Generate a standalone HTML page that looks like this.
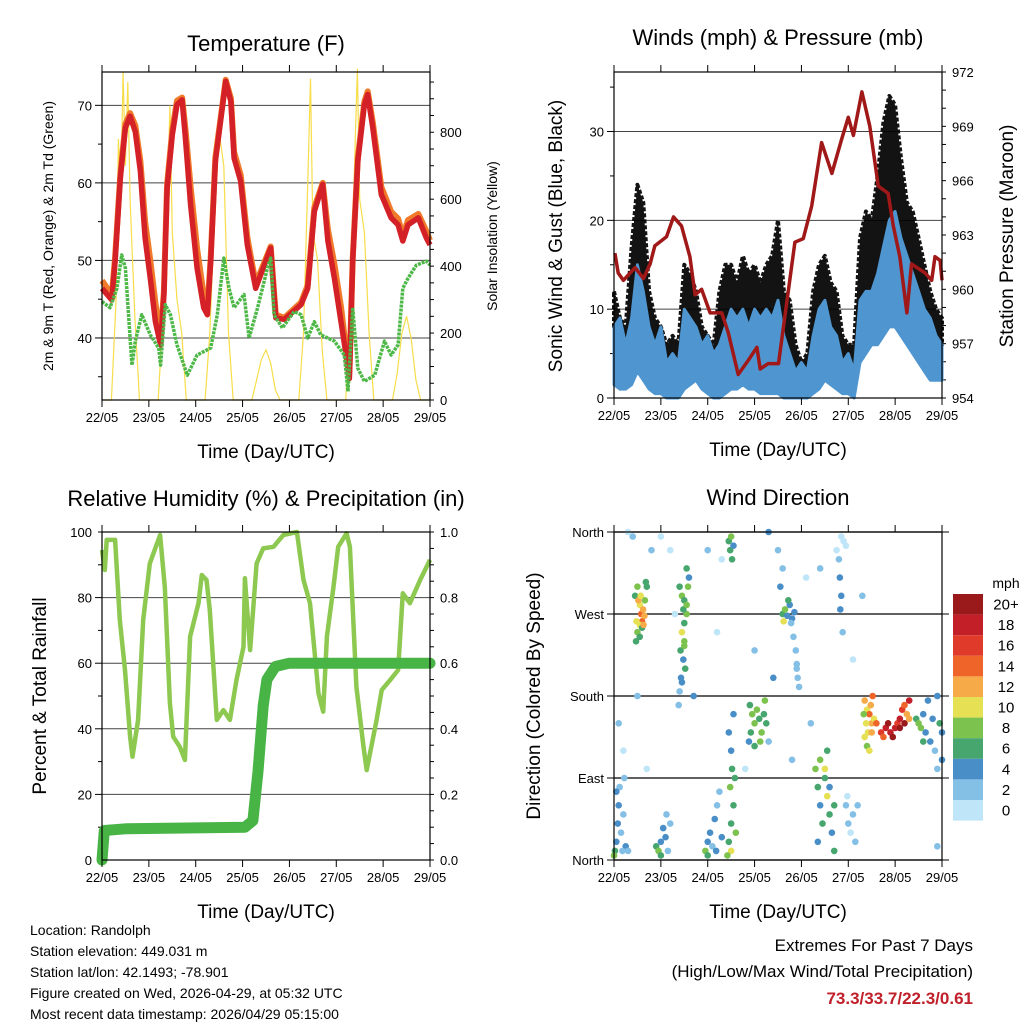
<!DOCTYPE html>
<html><head><meta charset="utf-8">
<style>
body{margin:0;background:#fff;}
svg{display:block;font-family:"Liberation Sans",sans-serif;}
</style></head>
<body>
<svg id="c" width="1024" height="1024" viewBox="0 0 1024 1024"></svg>
<script>
// ---------- DATA ----------
const dayTicks=["22/05","23/05","24/05","25/05","26/05","27/05","28/05","29/05"];
// Temperature panel
const tDays=[0,.21,.28,.39,.5,.6,.71,.82,.92,1.03,1.14,1.25,1.32,1.39,1.5,1.6,1.71,1.78,1.89,2.03,2.17,2.25,2.32,2.42,2.53,2.64,2.75,2.82,2.96,3.1,3.28,3.39,3.6,3.67,3.71,3.89,4.25,4.39,4.53,4.71,4.82,4.96,5.1,5.21,5.28,5.35,5.46,5.6,5.67,5.78,5.96,6.17,6.32,6.42,6.53,6.75,6.92,7];
const temp2m=[46.4,44.9,49.9,60.6,67.1,68.6,66.6,61.5,52.9,47.7,42.1,39.1,45.6,59.3,66.2,70.1,70.7,65.8,57.2,49,43.9,43,49.9,62.8,67.9,73.1,70.5,63.2,60.2,52,46.4,48.2,51.6,45.6,42.6,42.4,44.3,46.4,56.3,59.8,52.5,47.7,42.1,37.8,34.8,49.9,62.8,70.1,71.4,67.1,58.5,55.5,54.6,52.5,54.6,55.5,52.9,52];
const temp9m=[47.4,45.5,50.4,61,67.6,69,67.4,62.8,55,50,44.5,40,46,59.8,66.8,70.6,71,67,59.5,51.5,45.5,43.6,50.4,63.3,68.2,73.3,70.9,64,61,53,47,48.6,51.8,46,43,42.6,44.6,46.8,56.8,60,54,49.5,44,38.5,35.5,50.2,63.2,70.5,71.8,67.8,59.5,56.3,55.4,53.2,55.2,56,53.8,52.6];
const tdDays=[0,.17,.32,.42,.5,.6,.64,.71,.85,1.03,1.21,1.25,1.35,1.46,1.6,1.82,2.03,2.32,2.46,2.6,2.71,2.82,3.03,3.14,3.32,3.53,3.6,3.67,3.85,4.1,4.25,4.39,4.53,4.67,4.96,5.17,5.25,5.35,5.46,5.6,5.82,6.03,6.17,6.32,6.42,6.53,6.71,6.92,7];
const dewpoint=[44.7,43.9,46.4,50.7,49,40,36.5,39.6,43,40.4,38.7,36.5,44.3,43,39.1,35.2,37.8,38.7,43,50.3,46.4,43.9,45.6,40,43.9,49,50.3,43,41.3,43.4,43,40,42.1,40.4,39.6,37.8,33.1,43.9,36.1,34.4,35.2,39.6,37.8,39.1,46.4,47.7,49.4,49.9,49.4];
const solarDays=[0,.2,.3,.35,.4,.45,.5,.55,.6,.7,.8,1.2,1.3,1.4,1.45,1.5,1.6,1.7,1.8,2.2,2.3,2.4,2.5,2.6,2.7,2.8,3.2,3.3,3.4,3.5,3.6,3.7,3.8,4.2,4.3,4.4,4.45,4.5,4.6,4.7,4.8,5.2,5.3,5.4,5.45,5.5,5.6,5.7,5.8,6.2,6.3,6.4,6.5,6.6,6.7,6.8,7];
const solar=[0,0,300,780,600,980,700,950,600,250,0,0,250,600,880,500,300,200,0,0,200,550,800,700,200,0,0,60,120,150,110,30,0,0,200,700,960,500,420,150,0,0,250,750,990,600,500,200,0,0,80,200,250,180,60,0,0];
// Winds panel
const pDays=[.02,.09,.2,.45,.63,.77,.87,1.12,1.27,1.44,1.62,1.73,1.87,2.05,2.3,2.44,2.65,2.87,3.05,3.12,3.29,3.51,3.86,4.04,4.22,4.43,4.65,4.86,5,5.11,5.29,5.46,5.64,5.85,5.96,6.1,6.25,6.35,6.64,6.78,6.85,6.96,7];
const pressure=[962,960.9,960.5,961.2,960.6,961.4,962.4,962.9,964,963.5,961.8,959.7,960,958.7,958.7,957.6,955.3,956.1,956.8,955.6,955.9,955.9,962.6,962.8,964.6,968.1,966.4,968.3,969.5,968.5,970.9,969,965.7,965.3,963.5,961.8,958.7,961.4,960.9,960.5,961.8,961.6,960.5];
const wDays=[0,.125,.25,.375,.5,.625,.75,.875,1,1.125,1.25,1.375,1.5,1.625,1.75,1.875,2,2.125,2.25,2.375,2.5,2.625,2.75,2.875,3,3.125,3.25,3.375,3.5,3.625,3.75,3.875,4,4.125,4.25,4.375,4.5,4.625,4.75,4.875,5,5.125,5.25,5.375,5.5,5.625,5.75,5.875,6,6.125,6.25,6.375,6.5,6.625,6.75,6.875,7];
const windHi=[8,9,6,9,15,12,8,6,8,4,5,4,10,9,8,6,7,5,6,8,10,9,10,8,10,9,10,9,11,7,5,3,4,3,7,10,11,8,7,4,5,3,11,12,12,14,17,20,21,18,16,14,12,10,9,7,6];
const windLo=[1.5,1,1,1.5,3,2,1,.5,.5,0,0,0,1,1.5,2,1,.5,0,0,.5,1,1,1.5,1,1,.5,.5,.5,.5,0,0,0,0,0,.5,1,2,1.5,1,.5,.5,0,4,5,6,6,7,8,8,7,6,5,4,3,2,2,2];
const gustHi=[12,9,8,17,24,22,12,9,8,6,7,6,15,14,12,8,7,6,12,15,15,13,16,14,15,13,15,16,20,12,11,6,4,5,12,15,16,13,12,7,6,6,18,21,20,25,31,34,33,27,22,21,18,15,12,10,9];
// Humidity panel
const rhDays=[0,.06,.1,.28,.38,.49,.6,.65,.77,.88,1.02,1.24,1.34,1.45,1.52,1.66,1.77,1.88,2.06,2.13,2.23,2.3,2.45,2.59,2.73,2.87,3.02,3.05,3.16,3.3,3.44,3.66,3.87,4.16,4.3,4.44,4.62,4.72,4.8,4.94,5.04,5.22,5.29,5.43,5.58,5.65,5.86,5.97,6.15,6.32,6.42,6.57,6.79,7];
const humidity=[94.5,88.4,97.6,97.6,73.2,57.9,37.6,31.5,42.7,73.2,90.4,99.1,83.3,47.8,37.6,34.5,30.5,68.1,78.3,86.9,85.4,76.2,42.7,45.7,42.7,54.9,65,85.9,64,90.4,95,95.5,99.1,100,85.4,78.3,50.8,45.2,68.1,83.3,95.5,99.6,95.5,52.8,34.5,27.4,42.7,51.8,54.9,57.9,81.3,78.3,85.4,91.5];
const precipDays=[0,.05,.5,3.05,3.22,3.33,3.44,3.52,3.7,4,7];
const precip=[0,.09,.095,.1,.12,.27,.47,.55,.59,.6,.6];
// Wind direction panel
const dirDays=[.45,.5,.55,.58,.6,.62,.65,.55,.5,.48,.66,.7,.68,.52,.6,.57,.63,.47,.55,
1.4,1.45,1.5,1.55,1.5,1.45,1.5,1.42,1.48,1.52,1.55,1.6,1.58,1.48,1.43,1.4,1.38,1.45,1.55,1.5,
3.6,3.65,3.7,3.75,3.8,3.85,3.72,3.62,3.78,3.83,3.88,3.9,3.92,3.95,3.9,3.55,3.6,
4.8,4.82,4.85,4.83,4.9,4.95,4.85,4.75,4.88,
5.35,5.4,5.45,5.5,5.38,5.42,5.48,5.52,5.35,5.4,5.45,5.33,5.5,5.55,
5.6,5.7,5.8,5.85,5.9,5.95,6,6.05,6.1,6.15,6.2,6.25,6.3,6.1,5.75,6.2,6.3,
6.45,6.5,6.55,6.6,6.65,6.7,6.75,6.8,6.85,6.9,6.95,7,6.6,6.9,7,
.02,.05,.08,.1,.12,.15,.2,.22,.25,.05,0,.18,
.9,.95,1,1.05,1.1,1.15,1.2,1,1.12,
1.95,2,2.05,2.1,2.15,2.2,2.25,2.3,2,2.18,
2.45,2.5,2.55,2.48,2.52,2.5,2.45,2.55,2.6,2.5,2.42,2.58,
2.9,2.95,3,2.92,3.05,3.1,3.15,3.2,3.25,3.12,3,3.22,2.88,
2.45,2.5,2.48,2.52,2.55,
4.3,4.35,4.4,4.45,4.5,4.55,4.6,4.65,4.7,4.35,4.4,4.55,4.5,4.6,4.7,
4.95,5,5.05,5.1,5.15,4.98,
.1,.2,.3,.4,.8,1,1.2,1.3,2.2,2.3,2,3.3,3.5,3,4.1,4.4,3.4,3.3,3.8,5.3,5.1,5.2,.5,1.7,.7,4.2,6.9,2.8,.3];
const dirDeg=[290,300,280,270,262,275,268,258,250,262,285,300,305,285,255,290,258,240,245,
300,290,285,270,260,250,240,230,220,210,320,310,300,275,200,185,170,195,280,235,
270,275,268,280,265,272,285,262,260,245,230,215,200,190,210,300,320,
330,310,290,275,350,345,355,340,250,
175,165,160,150,150,140,170,180,135,125,120,160,140,155,
150,140,145,150,140,135,145,150,155,165,170,160,175,145,135,150,155,
155,150,145,160,140,175,130,155,120,180,150,140,130,100,110,
10,20,40,60,80,30,50,90,15,75,5,10,
15,10,20,35,25,10,40,5,50,
10,20,30,15,45,60,75,25,5,10,
20,40,60,80,100,120,140,160,30,10,5,90,
170,160,150,140,165,155,140,160,150,130,125,175,130,
350,355,340,330,345,
100,80,60,40,90,70,50,30,10,20,110,120,100,80,60,
60,40,30,50,20,70,
150,120,360,355,340,355,340,270,250,330,340,360,340,230,310,320,200,130,110,290,220,60,180,180,100,150,15,100,10];
const dirSpeed=[6,8,10,14,14,12,13,10,8,11,9,6,7,12,6,11,13,7,6,
6,8,7,8,7,10,8,6,5,6,6,5,8,6,4,2,2,5,8,9,
6,8,4,4,4,4,6,10,3,3,3,2,2,2,2,4,3,
2,4,4,4,0,0,0,0,2,
12,10,14,12,10,10,12,14,10,8,10,8,12,10,
14,16,18,20,18,20,18,16,18,16,14,12,18,20,14,20,12,
6,8,8,4,4,4,4,4,2,4,6,4,6,2,4,
6,4,4,4,2,2,2,2,4,4,8,2,
6,8,4,4,4,2,2,6,2,
8,4,4,2,4,2,2,4,6,4,
6,6,6,8,6,4,4,4,8,10,8,6,
6,8,8,6,8,6,8,6,6,8,6,8,4,
6,8,6,6,4,
8,6,4,6,6,10,6,4,6,4,8,6,10,4,6,
2,2,0,2,2,0,
2,0,0,2,2,0,0,0,0,0,2,4,2,2,0,2,4,2,2,2,0,2,2,4,0,2,2,0,2];
const speedLabels=["20+","18","16","14","12","10","8","6","4","2","0"];
const speedColors=["#bfe5f8","#84bfe6","#4a8ec8","#46a66e","#7cc24e","#e6e055","#f7aa48","#ef6529","#e03a2a","#c21f28","#9a1a1c"];

// ---------- DRAWING ----------
const NS="http://www.w3.org/2000/svg";
const svg=document.getElementById('c');
function mk(tag,attrs,parent){const e=document.createElementNS(NS,tag);for(const k in attrs)e.setAttribute(k,attrs[k]);(parent||svg).appendChild(e);return e;}
function txt(s,x,y,size,anchor,parent,extra){const t=mk('text',Object.assign({x:x,y:y,'font-size':size,'text-anchor':anchor||'middle',fill:'#000'},extra||{}),parent);t.textContent=s;return t;}
function path(pts){return pts.map((p,i)=>(i?'L':'M')+p[0].toFixed(1)+','+p[1].toFixed(1)).join('');}

function frame(g,L,R,T,B){
  const r=mk('rect',{x:L,y:T,width:R-L,height:B-T,fill:'none',stroke:'#000','stroke-width':1.2},g);
  
  
}
function xAxis(g,L,R,T,B,xs){
  for(let i=0;i<dayTicks.length;i++){
    const x=xs(i);
    mk('line',{x1:x,y1:B,x2:x,y2:B+7,stroke:'#000'},g);
    mk('line',{x1:x,y1:T,x2:x,y2:T-7,stroke:'#000'},g);
    const t=txt(dayTicks[i],x,B+22,13,'middle',g);
    
    
  }
  const t=txt('Time (Day/UTC)',(L+R)/2,B+58,19,'middle',g);
  
  
}
function hGrid(g,L,R,y,side,label,major){
  if(major) mk('line',{x1:L,y1:y,x2:R,y2:y,stroke:'#444','stroke-width':1},g);
  if(side==='l'){mk('line',{x1:L,y1:y,x2:L-(major?7:4),y2:y,stroke:'#000'},g);
    if(label!=null){const t=txt(label,L-10,y+5,13,'end',g);}}
  else{mk('line',{x1:R,y1:y,x2:R+(major?7:4),y2:y,stroke:'#000'},g);
    if(label!=null){const t=txt(label,R+10,y+5,13,'start',g);}}
}
function vtitle(g,s,x,y,size,name){const t=txt(s,x,y,size,'middle',g,{transform:'rotate(-90 '+x+' '+y+')'});}

// ===== Panel 1: Temperature =====
(function(){
  const g=mk('g',{});
  
  
  const L=102,R=430,T=72,B=400;
  const X=d=>L+d*(R-L)/7, Y=v=>B-(v-32)*(B-T)/(74.3-32), Ys=v=>B-v*(B-T)/980;
  for(let v=40;v<=70;v+=10)hGrid(g,L,R,Y(v),'l',v,true);
  for(let v=35;v<=70;v+=5)if(v%10)hGrid(g,L,R,Y(v),'l',null,false);
  for(let v=0;v<=950;v+=50)hGrid(g,L,R,Ys(v),'r',v%200===0?v:null,false);
  const sp=mk('path',{d:path(solarDays.map((d,i)=>[X(d),Ys(solar[i])])),fill:'none',stroke:'#f7dd4a','stroke-width':1.2},g);
  
  const o=mk('path',{d:path(tDays.map((d,i)=>[X(d),Y(temp9m[i])])),fill:'none',stroke:'#f07a2a','stroke-width':6,'stroke-linejoin':'round'},g);
  
  const r=mk('path',{d:path(tDays.map((d,i)=>[X(d),Y(temp2m[i])])),fill:'none',stroke:'#d42027','stroke-width':5.5,'stroke-linejoin':'round'},g);
  
  const gr=mk('path',{d:path(tdDays.map((d,i)=>[X(d),Y(dewpoint[i])])),fill:'none',stroke:'#4db848','stroke-width':3.5,'stroke-dasharray':'3 1','stroke-linejoin':'round'},g);
  
  frame(g,L,R,T,B);xAxis(g,L,R,T,B,i=>X(i));
  const t=txt('Temperature (F)',266,51,22,'middle',g);
  vtitle(g,'2m & 9m T (Red, Orange) & 2m Td (Green)',53,236,14,'y-axis-title');
  vtitle(g,'Solar Insolation (Yellow)',497,236,14,'y2-axis-title');
})();

// ===== Panel 2: Winds =====
(function(){
  const g=mk('g',{});
  
  
  const L=614,R=942,T=72,B=398;
  const X=d=>L+d*(R-L)/7, Y=v=>B-v*(B-T)/36.7, Yp=v=>B-(v-954)*(B-T)/18;
  for(let v=0;v<=30;v+=10)hGrid(g,L,R,Y(v),'l',v,true);
  for(let v=5;v<=35;v+=10)hGrid(g,L,R,Y(v),'l',null,false);
  for(let v=954;v<=972;v+=1)hGrid(g,L,R,Yp(v),'r',(v-954)%3===0?v:null,false);
  const gust=wDays.map((d,i)=>[X(d),Y(gustHi[i])]).concat(wDays.map((d,i)=>[X(d),Y(windHi[i])]).reverse());
  const gp=mk('path',{d:path(gust)+'Z',fill:'#000',stroke:'#000','stroke-width':4,'stroke-linejoin':'round','stroke-dasharray':'4 2',opacity:.92},g);
  
  const band=wDays.map((d,i)=>[X(d),Y(windHi[i])]).concat(wDays.map((d,i)=>[X(d),Y(windLo[i])]).reverse());
  const bp=mk('path',{d:path(band)+'Z',fill:'#4f96d0',stroke:'#4f96d0','stroke-width':3,'stroke-linejoin':'round'},g);
  
  const pp=mk('path',{d:path(pDays.map((d,i)=>[X(d),Yp(pressure[i])])),fill:'none',stroke:'#a01818','stroke-width':3.5,'stroke-linejoin':'round'},g);
  
  frame(g,L,R,T,B);xAxis(g,L,R,T,B,i=>X(i));
  const t=txt('Winds (mph) & Pressure (mb)',778,45,22,'middle',g);
  vtitle(g,'Sonic Wind & Gust (Blue, Black)',562,236,19,'y-axis-title');
  vtitle(g,'Station Pressure (Maroon)',1013,236,19,'y2-axis-title');
})();

// ===== Panel 3: Humidity & Precip =====
(function(){
  const g=mk('g',{});
  
  
  const L=102,R=430,T=532,B=860;
  const X=d=>L+d*(R-L)/7, Y=v=>B-v*(B-T)/100, Yp=v=>B-v*(B-T);
  for(let v=0;v<=100;v+=20)hGrid(g,L,R,Y(v),'l',v,v>0&&v<100);
  for(let v=10;v<=90;v+=20)hGrid(g,L,R,Y(v),'l',null,false);
  for(let v=0;v<=100;v+=5)hGrid(g,L,R,Y(v),'r',v%20===0?(v/100).toFixed(1):null,false);
  const rh=mk('path',{d:path(rhDays.map((d,i)=>[X(d),Y(humidity[i])])),fill:'none',stroke:'#8dc850','stroke-width':4.5,'stroke-linejoin':'round'},g);
  
  const pr=mk('path',{d:path(precipDays.map((d,i)=>[X(d),Yp(precip[i])])),fill:'none',stroke:'#48b446','stroke-width':11,'stroke-linejoin':'round','stroke-linecap':'round'},g);
  
  frame(g,L,R,T,B);xAxis(g,L,R,T,B,i=>X(i));
  const t=txt('Relative Humidity (%) & Precipitation (in)',266,506,22,'middle',g);
  vtitle(g,'Percent & Total Rainfall',46,696,19,'y-axis-title');
})();

// ===== Panel 4: Wind Direction =====
(function(){
  const g=mk('g',{});
  
  
  const L=614,R=942,T=532,B=860;
  const X=d=>L+d*(R-L)/7, Y=v=>B-v*(B-T)/360;
  const names=["North","East","South","West","North"];
  for(let i=0;i<5;i++){const y=Y(i*90);
    mk('line',{x1:L,y1:y,x2:R,y2:y,stroke:'#000','stroke-width':1.2},g);
    mk('line',{x1:L,y1:y,x2:L-7,y2:y,stroke:'#000'},g);
    mk('line',{x1:R,y1:y,x2:R+7,y2:y,stroke:'#000'},g);
    const t=txt(names[i],L-10,y+5,13,'end',g);}
  for(let i=0;i<dirDays.length;i++){
    const c=mk('circle',{cx:X(dirDays[i]),cy:Y(dirDeg[i]),r:3.3,fill:speedColors[Math.min(10,Math.floor(dirSpeed[i]/2))]},g);
    
    
  }
  frame(g,L,R,T,B);xAxis(g,L,R,T,B,i=>X(i));
  const t=txt('Wind Direction',778,505,22,'middle',g);
  vtitle(g,'Direction (Colored By Speed)',540,696,19,'y-axis-title');
  const lg=mk('g',{},g);
  
  
  const u=txt('mph',1006,588,14,'middle',lg);
  for(let i=0;i<11;i++){
    const y=594+i*20.6;
    const r=mk('rect',{x:953,y:y,width:30,height:20.6,fill:speedColors[10-i]},lg);
    
    const l=txt(speedLabels[i],1006,y+15.5,15,'middle',lg);
  }
})();

// ===== Footer text =====
const info=["Location: Randolph","Station elevation: 449.031 m","Station lat/lon: 42.1493; -78.901","Figure created on Wed, 2026-04-29, at 05:32 UTC","Most recent data timestamp: 2026/04/29 05:15:00"];
info.forEach((s,i)=>{const t=txt(s,30,935+i*21,14,'start');});
let e1=txt('Extremes For Past 7 Days',973,951,17,'end');
let e2=txt('(High/Low/Max Wind/Total Precipitation)',973,977,17,'end');
let e3=txt('73.3/33.7/22.3/0.61',973,1004,17,'end',null,{fill:'#c0202a','font-weight':'bold'});
</script>
</body></html>
